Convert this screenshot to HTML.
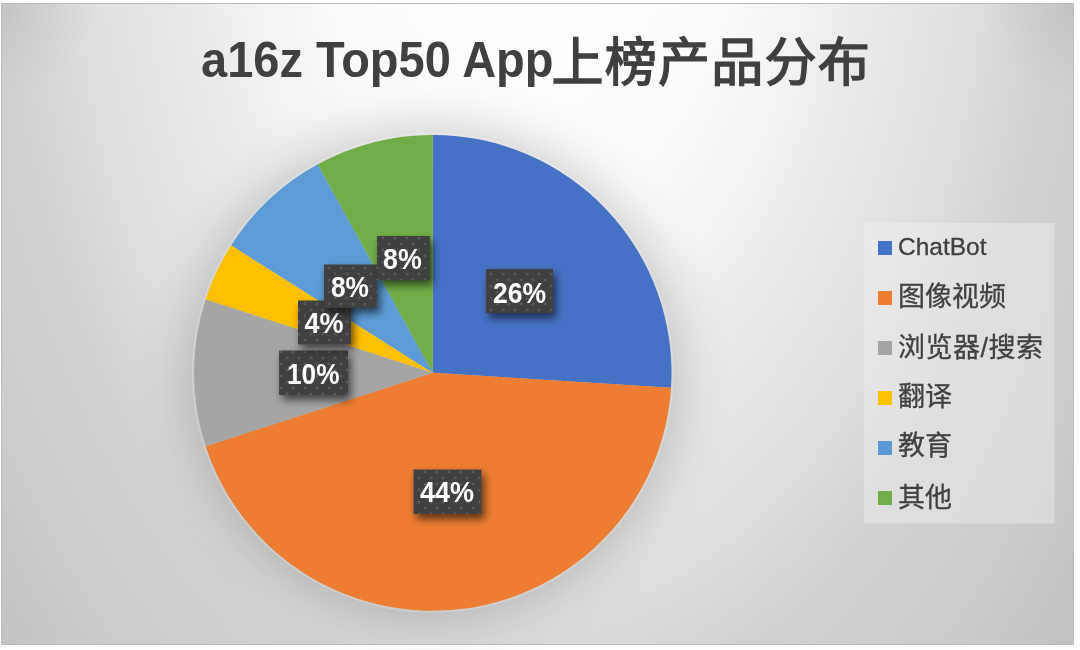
<!DOCTYPE html>
<html><head><meta charset="utf-8">
<style>
html,body{margin:0;padding:0;background:#fff;width:1080px;height:650px;overflow:hidden}
svg{display:block;will-change:transform}
.lg text{stroke:#404040;stroke-width:0.3px}
.t{font-family:"Liberation Sans","Noto Sans CJK SC",sans-serif}
</style></head>
<body>
<svg width="1080" height="650" viewBox="0 0 1080 650">
<defs>
<radialGradient id="bg" gradientUnits="userSpaceOnUse" cx="530.0" cy="-120.0" r="1250" gradientTransform="translate(530.0 -120.0) scale(0.6250 1) translate(-530.0 120.0)">
<stop offset="0.0000" stop-color="#fefefe"/>
<stop offset="0.1200" stop-color="#fefefe"/>
<stop offset="0.2800" stop-color="#fafafa"/>
<stop offset="0.4160" stop-color="#ececec"/>
<stop offset="0.5600" stop-color="#e0e0e0"/>
<stop offset="0.6800" stop-color="#d1d1d1"/>
<stop offset="0.8000" stop-color="#cccccc"/>
<stop offset="1.0000" stop-color="#bababa"/>
</radialGradient>
<filter id="pieSh" x="-35%" y="-35%" width="170%" height="170%">
<feGaussianBlur in="SourceAlpha" stdDeviation="30"/>
<feOffset dx="0" dy="1" result="b"/>
<feComponentTransfer><feFuncA type="linear" slope="0.25"/></feComponentTransfer>
<feMerge><feMergeNode/><feMergeNode in="SourceGraphic"/></feMerge>
</filter>
<filter id="lblSh" x="-30%" y="-30%" width="160%" height="170%">
<feGaussianBlur in="SourceAlpha" stdDeviation="4.5"/>
<feOffset dx="2.5" dy="5" result="b"/>
<feComponentTransfer><feFuncA type="linear" slope="0.6"/></feComponentTransfer>
<feMerge><feMergeNode/><feMergeNode in="SourceGraphic"/></feMerge>
</filter>
<radialGradient id="dotg"><stop offset="0" stop-color="#606060"/><stop offset="0.5" stop-color="#555"/><stop offset="1" stop-color="#404040"/></radialGradient>
<pattern id="dots" x="1" y="0" width="12" height="12" patternUnits="userSpaceOnUse">
<rect width="12" height="12" fill="#404040"/>
<circle cx="4" cy="4" r="2" fill="url(#dotg)"/>
<circle cx="10" cy="10" r="2" fill="url(#dotg)"/>
</pattern>
<radialGradient id="cornL" gradientUnits="userSpaceOnUse" cx="1" cy="3" r="95">
<stop offset="0" stop-color="#000" stop-opacity="0.07"/>
<stop offset="0.4" stop-color="#000" stop-opacity="0.035"/>
<stop offset="1" stop-color="#000" stop-opacity="0"/>
</radialGradient>
<radialGradient id="cornR" gradientUnits="userSpaceOnUse" cx="1074" cy="3" r="95">
<stop offset="0" stop-color="#000" stop-opacity="0.07"/>
<stop offset="0.4" stop-color="#000" stop-opacity="0.035"/>
<stop offset="1" stop-color="#000" stop-opacity="0"/>
</radialGradient>
</defs>
<rect x="1.5" y="3.5" width="1072" height="641" fill="url(#bg)" stroke="#bcbcbc" stroke-width="1"/>
<rect x="2" y="4" width="100" height="100" fill="url(#cornL)"/>
<rect x="973" y="4" width="100" height="100" fill="url(#cornR)"/>

<text class="t" x="201" y="77.2" font-size="49.5" font-weight="bold" fill="#404040" textLength="352.5" lengthAdjust="spacingAndGlyphs">a16z Top50 App</text>
<text class="t" x="551.5" y="80.5" font-size="52" font-weight="400" letter-spacing="1.25" stroke="#404040" stroke-width="1.5" fill="#404040">上榜产品分布</text>

<g filter="url(#pieSh)">
<path d="M432.75,372.8 L432.75,134.90 A238.75,237.9 0 0 1 671.03,387.74 Z" fill="#4472C4"/>
<path d="M432.75,372.8 L671.03,387.74 A238.75,237.9 0 0 1 205.69,446.32 Z" fill="#ED7D31"/>
<path d="M432.75,372.8 L205.69,446.32 A238.75,237.9 0 0 1 205.69,299.28 Z" fill="#A5A5A5"/>
<path d="M432.75,372.8 L205.69,299.28 A238.75,237.9 0 0 1 231.17,245.33 Z" fill="#FFC000"/>
<path d="M432.75,372.8 L231.17,245.33 A238.75,237.9 0 0 1 317.73,164.33 Z" fill="#5B9BD5"/>
<path d="M432.75,372.8 L317.73,164.33 A238.75,237.9 0 0 1 432.75,134.90 Z" fill="#70AD47"/>
</g>
<ellipse cx="432.75" cy="372.8" rx="240" ry="239.15" fill="none" stroke="#fff" stroke-opacity="0.22" stroke-width="1.6"/>

<g class="t" font-weight="bold" font-size="29" fill="#fff">
<g filter="url(#lblSh)"><rect x="486" y="269" width="67" height="44" fill="url(#dots)"/></g>
<text id="l1" x="493" y="302.5" textLength="53" lengthAdjust="spacingAndGlyphs">26%</text>
<g filter="url(#lblSh)"><rect x="413.5" y="469.5" width="68" height="44.5" fill="url(#dots)"/></g>
<text id="l2" x="420" y="502.2" textLength="54" lengthAdjust="spacingAndGlyphs">44%</text>
<g filter="url(#lblSh)"><rect x="279" y="350.5" width="69" height="44.5" fill="url(#dots)"/></g>
<text id="l3" x="287" y="383.5" textLength="52.5" lengthAdjust="spacingAndGlyphs">10%</text>
<g filter="url(#lblSh)"><rect x="298" y="300.5" width="53" height="44" fill="url(#dots)"/></g>
<text id="l4" x="304.5" y="333.3" textLength="39" lengthAdjust="spacingAndGlyphs">4%</text>
<g filter="url(#lblSh)"><rect x="324" y="264.5" width="53" height="43.5" fill="url(#dots)"/></g>
<text id="l5" x="331" y="297.4" textLength="38" lengthAdjust="spacingAndGlyphs">8%</text>
<g filter="url(#lblSh)"><rect x="377" y="236" width="53" height="44" fill="url(#dots)"/></g>
<text id="l6" x="383" y="268.7" textLength="38.7" lengthAdjust="spacingAndGlyphs">8%</text>
</g>

<rect x="864" y="223" width="190.5" height="300.5" fill="#f2f2f2" fill-opacity="0.4"/>
<g class="t lg" font-size="27" fill="#404040">
<rect x="878" y="241" width="14" height="14" fill="#4472C4"/><text x="898" y="255" font-size="24.5">ChatBot</text>
<rect x="878" y="291" width="14" height="14" fill="#ED7D31"/><text x="898" y="306">图像视频</text>
<rect x="878" y="341" width="14" height="14" fill="#A5A5A5"/><text x="898" y="356.5" textLength="145" lengthAdjust="spacing">浏览器/搜索</text>
<rect x="878" y="391" width="14" height="14" fill="#FFC000"/><text x="898" y="405.8">翻译</text>
<rect x="878" y="441" width="14" height="14" fill="#5B9BD5"/><text x="898" y="455.3">教育</text>
<rect x="878" y="491" width="14" height="14" fill="#70AD47"/><text x="898" y="506.5">其他</text>
</g>
</svg>
</body></html>
